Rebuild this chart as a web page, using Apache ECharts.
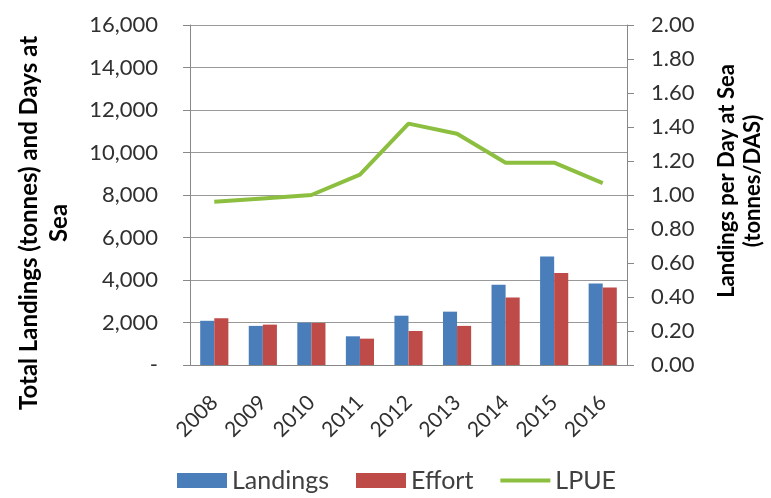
<!DOCTYPE html>
<html>
<head>
<meta charset="utf-8">
<script src="https://cdn.jsdelivr.net/npm/echarts@6/dist/echarts.min.js"></script>
<style>
  html, body { margin: 0; padding: 0; background: #fff; }
  #chart { width: 771px; height: 498px; }
</style>
</head>
<body>
<div id="chart"></div>
<script>
// years
var years = ["2008", "2009", "2010", "2011", "2012", "2013", "2014", "2015", "2016"];
// landings (tonnes)
var landings = [2080, 1840, 1990, 1350, 2320, 2510, 3780, 5110, 3840];
// effort (days at sea)
var effort = [2200, 1900, 1980, 1240, 1600, 1840, 3180, 4330, 3650];
// LPUE (tonnes/DAS)
var lpue = [0.96, 0.98, 1.00, 1.12, 1.42, 1.36, 1.19, 1.19, 1.07];

var font = "Lato";
var chart = echarts.init(document.getElementById("chart"));

var option = {
  animation: false,
  textStyle: { fontFamily: font },
  grid: { left: 190, right: 144, top: 25, bottom: 133, outerBoundsMode: "none", containLabel: false },
  legend: {
    bottom: 0,
    left: 172,
    itemWidth: 50,
    itemHeight: 15,
    itemGap: 27,
    textStyle: { fontSize: 25, color: "#404040", fontFamily: font },
    data: [
      { name: "Landings", icon: "rect" },
      { name: "Effort", icon: "rect" },
      { name: "LPUE", icon: "path://M0,0 L50,0 L50,4 L0,4 Z" }
    ]
  },
  xAxis: {
    type: "category",
    data: years,
    axisLine: { lineStyle: { color: "#888" } },
    axisTick: { length: 7, lineStyle: { color: "#888" } },
    axisLabel: { rotate: 45, fontSize: 21, color: "#303030", margin: 34 }
  },
  yAxis: [
    {
      type: "value",
      min: 0,
      max: 16000,
      interval: 2000,
      name: "Total Landings (tonnes) and Days at\nSea",
      nameLocation: "middle",
      nameGap: 116,
      nameRotate: 90,
      nameTextStyle: { fontSize: 24, fontWeight: "bold", color: "#000", lineHeight: 30, padding: [0, 56, 0, 0] },
      axisLine: { show: true, lineStyle: { color: "#888" } },
      axisTick: { show: true, length: 7, lineStyle: { color: "#888" } },
      splitLine: { lineStyle: { color: "#999" } },
      axisLabel: {
        fontSize: 22,
        color: "#303030",
        margin: 32,
        formatter: function (v) {
          return v === 0 ? "-" : v.toLocaleString("en-US");
        }
      }
    },
    {
      type: "value",
      min: 0,
      max: 2,
      interval: 0.2,
      name: "Landings per Day at Sea\n(tonnes/DAS)",
      nameLocation: "middle",
      nameGap: 87,
      nameRotate: 90,
      nameTextStyle: { fontSize: 22, fontWeight: "bold", color: "#000", lineHeight: 26, padding: [0, 0, 0, 28] },
      axisLine: { show: true, lineStyle: { color: "#888" } },
      axisTick: { show: true, length: 7, lineStyle: { color: "#888" } },
      splitLine: { show: false },
      axisLabel: {
        fontSize: 22,
        color: "#303030",
        margin: 24,
        formatter: function (v) { return v.toFixed(2); }
      }
    }
  ],
  series: [
    {
      name: "Landings",
      type: "bar",
      data: landings,
      barWidth: "29%",
      barGap: "0%",
      itemStyle: { color: "#4a7ebb" }
    },
    {
      name: "Effort",
      type: "bar",
      data: effort,
      barWidth: "29%",
      itemStyle: { color: "#be4b48" }
    },
    {
      name: "LPUE",
      type: "line",
      yAxisIndex: 1,
      data: lpue,
      symbol: "none",
      lineStyle: { color: "#8cbf3f", width: 4 },
      itemStyle: { color: "#8cbf3f" }
    }
  ]
};
chart.setOption(option);
</script>
</body>
</html>
